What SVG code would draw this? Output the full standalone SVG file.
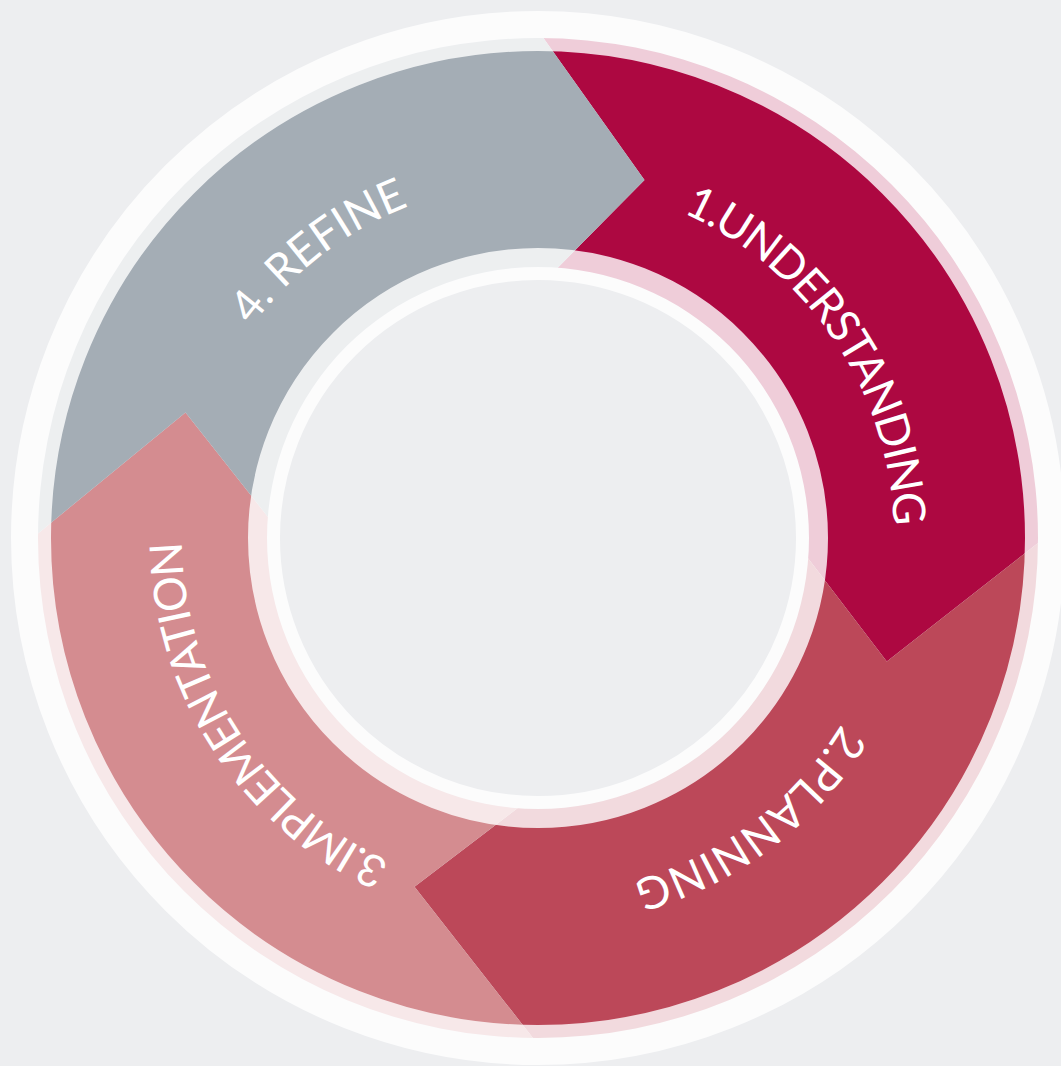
<svg xmlns="http://www.w3.org/2000/svg" xmlns:xlink="http://www.w3.org/1999/xlink" width="1061" height="1066" viewBox="0 0 1061 1066">
  <style>
    .lbl { font-family: Lato, "Liberation Sans", "DejaVu Sans", sans-serif; font-size: 45px; font-weight: 400; fill: #FFFFFF; }
    .ring { fill: none; stroke: #FFFFFF; stroke-opacity: 0.8; }
  </style>
  <defs>
    <clipPath id="band">
      <path clip-rule="evenodd" d="M538,38 A500,500 0 1,1 538,1038 A500,500 0 1,1 538,38 Z M538,267 A271,271 0 1,1 538,809 A271,271 0 1,1 538,267 Z"/>
    </clipPath>
    <path id="tp" d="M538,182 A356,356 0 1,1 538,894 A356,356 0 1,1 538,182"/>
  </defs>
  <rect width="1061" height="1066" fill="#EDEEF0"/>
  <g clip-path="url(#band)">
    <g id="node-understanding">
      <path fill="#AD0841" d="M534.3,25.2 L644.5,180 L541.7,284 L538,538 L793.9,539.8 L886.8,661.5 L1052.4,531.7 L1100,-20 Z"/>
    </g>
    <g id="node-planning">
      <path fill="#BC4859" d="M1052.4,531.7 L886.8,661.5 L793.9,539.8 L538,538 L536.2,793.9 L414.5,886.8 L544.3,1052.4 L1100,1100 Z"/>
    </g>
    <g id="node-implementation">
      <path fill="#D48C90" d="M544.3,1052.4 L414.5,886.8 L536.2,793.9 L538,538 L283.9,537.2 L185.5,412.5 L24.3,544.7 L-20,1100 Z"/>
    </g>
    <g id="node-refine">
      <path fill="#A4ADB5" d="M24.3,544.7 L185.5,412.5 L283.9,537.2 L538,538 L541.7,284 L644.5,180 L534.3,25.2 L-20,-20 Z"/>
    </g>
  </g>
  <circle class="ring" cx="538" cy="538" r="507" stroke-width="40"/>
  <circle class="ring" cx="538" cy="538" r="274" stroke-width="32"/>
  <g id="labels">
    <text class="lbl" text-anchor="middle"><textPath xlink:href="#tp" href="#tp" startOffset="348" textLength="398" lengthAdjust="spacing">1.UNDERSTANDING</textPath></text>
    <text class="lbl" text-anchor="middle"><textPath xlink:href="#tp" href="#tp" startOffset="888" textLength="267" lengthAdjust="spacing">2.PLANNING</textPath></text>
    <text class="lbl" text-anchor="middle"><textPath xlink:href="#tp" href="#tp" startOffset="1472" textLength="403" lengthAdjust="spacing">3.IMPLEMENTATION</textPath></text>
    <text class="lbl" text-anchor="middle"><textPath xlink:href="#tp" href="#tp" startOffset="2004" textLength="200" lengthAdjust="spacing">4. REFINE</textPath></text>
  </g>
</svg>
